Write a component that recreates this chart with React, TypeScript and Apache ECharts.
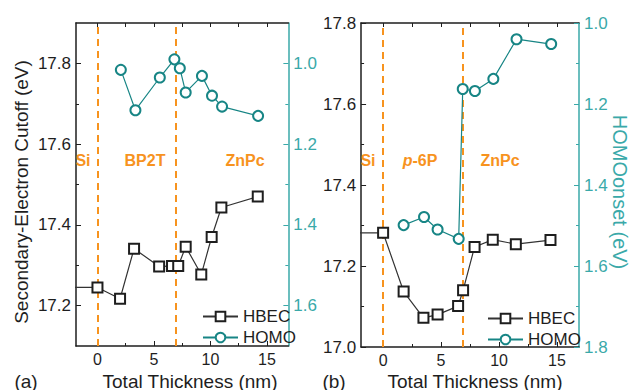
import React, { useEffect, useRef } from "react";
import * as echarts from "echarts";

// ---------- Data ----------
// Panel (a): Si / BP2T / ZnPc
const aHbecX = [-2, 0, 2.0, 3.24, 5.46, 6.6, 7.15, 7.81, 9.19, 10.11, 10.97, 14.19];
const aHbecY = [17.245, 17.245, 17.217, 17.341, 17.297, 17.298, 17.298, 17.346, 17.277, 17.37, 17.443, 17.47];
const aHomoX = [2.07, 3.36, 5.52, 6.81, 7.29, 7.81, 9.25, 10.14, 11.03, 14.22];
const aHomoY = [1.016, 1.116, 1.035, 0.99, 1.012, 1.072, 1.031, 1.08, 1.107, 1.13];
const aInterfaces = [0, 6.95];

// Panel (b): Si / p-6P / ZnPc
const bHbecX = [-2, 0, 1.77, 3.48, 4.7, 6.47, 6.9, 7.89, 9.46, 11.45, 14.44];
const bHbecY = [17.282, 17.282, 17.137, 17.072, 17.08, 17.101, 17.14, 17.247, 17.265, 17.254, 17.264];
const bHomoX = [1.77, 3.53, 4.7, 6.52, 6.87, 7.92, 9.51, 11.51, 14.5];
const bHomoY = [1.499, 1.479, 1.51, 1.533, 1.163, 1.168, 1.138, 1.04, 1.052];
const bInterfaces = [0, 6.86];

// Tick values
const xLabelTicks = [0, 5, 10, 15];
const xAllTicks = [0, 2.5, 5, 7.5, 10, 12.5, 15];
const xMinorTicks = [2.5, 7.5, 12.5];
const aLeftTicks = [17.2, 17.4, 17.6, 17.8];
const aLeftMinor = [17.3, 17.5, 17.7];
const aRightTicks = [1.0, 1.2, 1.4, 1.6];
const aRightMinor = [1.1, 1.3, 1.5];
const bLeftTicks = [17.0, 17.2, 17.4, 17.6, 17.8];
const bLeftMinor = [17.1, 17.3, 17.5, 17.7];
const bRightTicks = [1.0, 1.2, 1.4, 1.6, 1.8];
const bRightMinor = [1.1, 1.3, 1.5, 1.7];

const seriesNames = ["HBEC", "HOMO"];

// ---------- Styles ----------
const FONT = "'Liberation Sans', Arial, Helvetica, sans-serif";
const BLACK = "#1e1e1e";
const TEAL = "#178585";
const TEAL_AXIS = "#3aa9a9";
const ORANGE = "#f7931e";

function pairs(xs: number[], ys: number[]) {
  return xs.map((x, i) => {
    if (x < 0 && i === 0) return { value: [x, ys[i]], symbol: "none" };
    return { value: [x, ys[i]] };
  });
}

function fmt(v: number) {
  return Number(v).toFixed(1);
}

type PanelCfg = {
  grid: any;
  xMin: number;
  xMax: number;
  lMin: number;
  lMax: number;
  rMin: number;
  rMax: number;
  lTicks: number[];
  lMinor: number[];
  rTicks: number[];
  rMinor: number[];
  hbec: any[];
  homo: any[];
  interfaces: number[];
  legend: { left: number; top: number; itemGap: number };
  graphics: any[];
};

function buildOption(c: PanelCfg) {
  const xBase = {
    type: "value",
    min: c.xMin,
    max: c.xMax,
    splitLine: { show: false },
  };
  const yBase = { type: "value", splitLine: { show: false } };
  return {
    animation: false,
    backgroundColor: "#ffffff",
    textStyle: { fontFamily: FONT },
    grid: c.grid,
    legend: {
      data: seriesNames,
      orient: "vertical",
      left: c.legend.left,
      top: c.legend.top,
      itemWidth: 35,
      itemHeight: 12,
      itemGap: c.legend.itemGap,
      textStyle: { fontSize: 17, color: BLACK, fontFamily: FONT },
    },
    xAxis: [
      {
        ...xBase,
        position: "bottom",
        axisLine: { onZero: false, lineStyle: { color: BLACK, width: 1.5 } },
        axisTick: { inside: true, length: 5, customValues: xLabelTicks, lineStyle: { color: BLACK } },
        axisLabel: {
          customValues: xLabelTicks,
          fontSize: 16,
          color: BLACK,
          margin: 5,
          fontFamily: FONT,
        },
      },
      {
        ...xBase,
        position: "top",
        axisLine: { onZero: false, lineStyle: { color: BLACK, width: 1.5 } },
        axisTick: { inside: true, length: 4, customValues: xAllTicks, lineStyle: { color: BLACK } },
        axisLabel: { show: false },
      },
      {
        ...xBase,
        position: "bottom",
        offset: 0,
        axisLine: { show: false, onZero: false },
        axisTick: { inside: true, length: 3, customValues: xMinorTicks, lineStyle: { color: BLACK } },
        axisLabel: { show: false },
      },
    ],
    yAxis: [
      {
        ...yBase,
        position: "left",
        min: c.lMin,
        max: c.lMax,
        axisLine: { onZero: false, lineStyle: { color: BLACK, width: 1.5 } },
        axisTick: { inside: true, length: 5, customValues: c.lTicks, lineStyle: { color: BLACK } },
        axisLabel: {
          customValues: c.lTicks,
          formatter: fmt,
          fontSize: 17,
          color: BLACK,
          margin: 5,
          fontFamily: FONT,
        },
      },
      {
        ...yBase,
        position: "right",
        inverse: true,
        min: c.rMin,
        max: c.rMax,
        axisLine: { onZero: false, lineStyle: { color: TEAL_AXIS, width: 1.5 } },
        axisTick: { inside: true, length: 5, customValues: c.rTicks, lineStyle: { color: TEAL_AXIS } },
        axisLabel: {
          customValues: c.rTicks,
          formatter: fmt,
          fontSize: 17,
          color: TEAL_AXIS,
          margin: 5,
          fontFamily: FONT,
        },
      },
      {
        ...yBase,
        position: "left",
        offset: 0,
        min: c.lMin,
        max: c.lMax,
        axisLine: { show: false, onZero: false },
        axisTick: { inside: true, length: 3, customValues: c.lMinor, lineStyle: { color: BLACK } },
        axisLabel: { show: false },
      },
      {
        ...yBase,
        position: "right",
        offset: 0,
        inverse: true,
        min: c.rMin,
        max: c.rMax,
        axisLine: { show: false, onZero: false },
        axisTick: { inside: true, length: 3, customValues: c.rMinor, lineStyle: { color: TEAL_AXIS } },
        axisLabel: { show: false },
      },
    ],
    series: [
      {
        name: "HBEC",
        type: "line",
        xAxisIndex: 0,
        yAxisIndex: 0,
        data: c.hbec,
        symbol: "emptyRect",
        symbolSize: 10,
        color: BLACK,
        itemStyle: { color: BLACK, borderColor: BLACK, borderWidth: 2 },
        lineStyle: { color: "#333", width: 1.2 },
        z: 3,
        markLine: {
          silent: true,
          symbol: "none",
          label: { show: false },
          lineStyle: { type: [7, 5], color: ORANGE, width: 2 },
          data: c.interfaces.map((v) => ({ xAxis: v })),
          z: 1,
        },
      },
      {
        name: "HOMO",
        type: "line",
        xAxisIndex: 0,
        yAxisIndex: 1,
        data: c.homo,
        symbol: "emptyCircle",
        symbolSize: 10,
        color: TEAL,
        itemStyle: { color: TEAL, borderColor: TEAL, borderWidth: 2 },
        lineStyle: { color: TEAL, width: 1.2 },
        z: 3,
      },
    ],
    graphic: c.graphics,
  };
}

function txt(text: string, x: number, y: number, opts: any = {}) {
  return {
    type: "text",
    x,
    y,
    rotation: opts.rotation || 0,
    z: 100,
    style: {
      text,
      fill: opts.fill || BLACK,
      font: `${opts.weight || "normal"} ${opts.size || 20}px ${FONT}`,
      align: "center",
      verticalAlign: "middle",
      rich: opts.rich,
    },
  };
}

const regionStyle = { fill: ORANGE, weight: "bold", size: 16 };

export default function App() {
  const leftRef = useRef<HTMLDivElement>(null);
  const rightRef = useRef<HTMLDivElement>(null);

  useEffect(() => {
    const c1 = echarts.init(leftRef.current as HTMLDivElement, null, { renderer: "svg" });
    const c2 = echarts.init(rightRef.current as HTMLDivElement, null, { renderer: "svg" });

    c1.setOption(
      buildOption({
        grid: { left: 76, top: 23, width: 218, height: 323 },
        xMin: -1.9,
        xMax: 16.9,
        lMin: 17.1,
        lMax: 17.9,
        rMin: 0.9,
        rMax: 1.7,
        lTicks: aLeftTicks,
        lMinor: aLeftMinor,
        rTicks: aRightTicks,
        rMinor: aRightMinor,
        hbec: pairs(aHbecX, aHbecY),
        homo: pairs(aHomoX, aHomoY),
        interfaces: aInterfaces,
        legend: { left: 197, top: 303, itemGap: 4 },
        graphics: [
          txt("Secondary-Electron Cutoff (eV)", 21, 192, { rotation: Math.PI / 2, size: 19 }),
          txt("(a)", 26, 381, { size: 19 }),
          txt("Total Thickness (nm)", 190, 381, { size: 19 }),
          txt("Si", 83, 160, regionStyle),
          txt("BP2T", 145, 160, regionStyle),
          txt("ZnPc", 245, 160, regionStyle),
        ],
      })
    );

    c2.setOption(
      buildOption({
        grid: { left: 39, top: 23, width: 220, height: 324 },
        xMin: -1.9,
        xMax: 16.9,
        lMin: 17.0,
        lMax: 17.8,
        rMin: 1.0,
        rMax: 1.8,
        lTicks: bLeftTicks,
        lMinor: bLeftMinor,
        rTicks: bRightTicks,
        rMinor: bRightMinor,
        hbec: pairs(bHbecX, bHbecY),
        homo: pairs(bHomoX, bHomoY),
        interfaces: bInterfaces,
        legend: { left: 162, top: 305, itemGap: 4 },
        graphics: [
          txt("HOMOonset (eV)", 300, 192, { rotation: -Math.PI / 2, size: 20, fill: TEAL_AXIS }),
          txt("(b)", 14, 381, { size: 19 }),
          txt("Total Thickness (nm)", 155, 381, { size: 19 }),
          txt("Si", 48, 160, regionStyle),
          txt("{i|p}-6P", 100, 160, {
            ...regionStyle,
            rich: {
              i: { fontStyle: "italic", fontWeight: "bold", fontSize: 16, fill: ORANGE, fontFamily: FONT },
            },
          }),
          txt("ZnPc", 180, 160, regionStyle),
        ],
      })
    );

    return () => {
      c1.dispose();
      c2.dispose();
    };
  }, []);

  return (
    <div
      style={{
        position: "fixed",
        left: 0,
        top: 0,
        width: 635,
        height: 390,
        background: "#ffffff",
        overflow: "hidden",
      }}
    >
      <div
        ref={leftRef}
        style={{ position: "absolute", left: 0, top: 0, width: 320, height: 390, overflow: "hidden" }}
      />
      <div
        ref={rightRef}
        style={{ position: "absolute", left: 320, top: 0, width: 315, height: 390, overflow: "hidden" }}
      />
    </div>
  );
}
